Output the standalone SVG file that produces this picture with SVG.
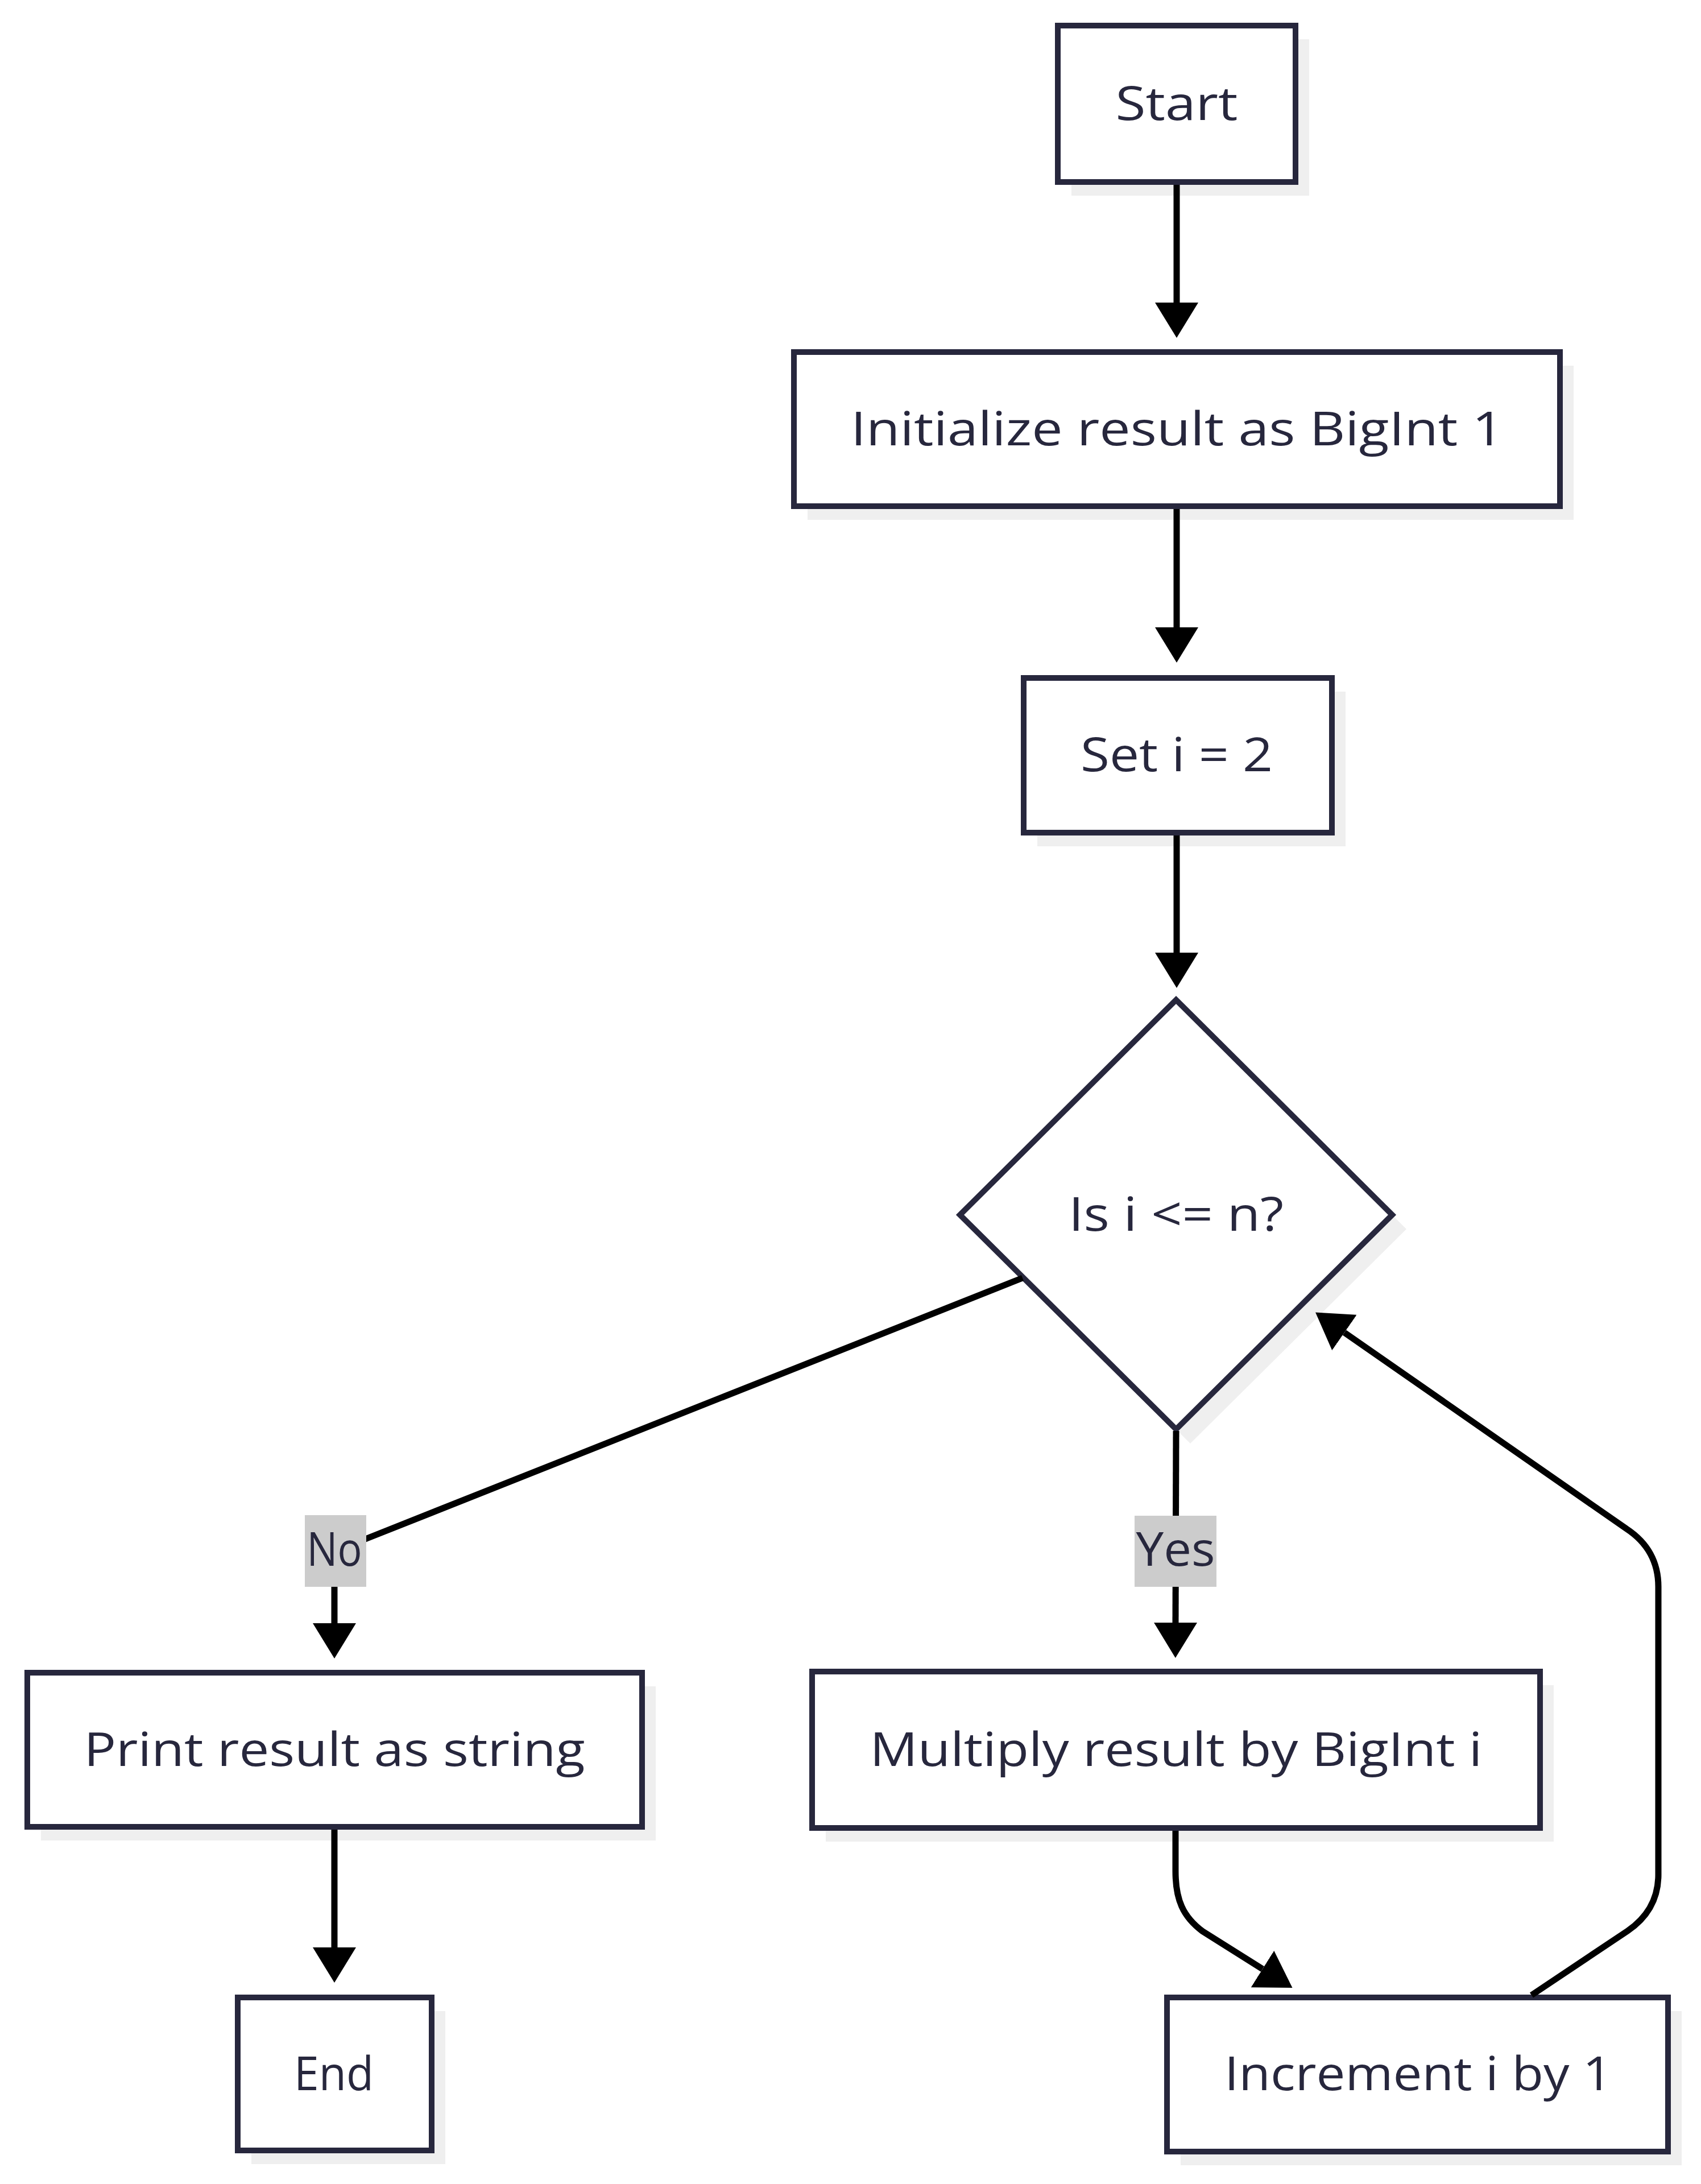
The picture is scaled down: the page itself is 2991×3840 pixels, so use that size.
<svg xmlns="http://www.w3.org/2000/svg" width="2991" height="3840" viewBox="0 0 2991 3840">
<style>
.bg{fill:#ffffff}
.shadow{fill:#efefef;stroke:none}
.box{fill:#ffffff;stroke:#27273d;stroke-width:10}
.lbl{font-family:"Open Sans","Liberation Sans",sans-serif;font-size:83px;fill:#27273d;text-anchor:middle}
.edge{fill:none;stroke:#000000;stroke-width:11;marker-end:url(#arrow)}
.elbg{fill:#cccccc}
</style>
<defs>
<marker id="arrow" markerUnits="userSpaceOnUse" markerWidth="62" markerHeight="76" refX="0" refY="38" orient="auto" viewBox="0 0 62 76">
<path d="M0,0 L62,38 L0,76 z" fill="#000000"/>
</marker>
</defs>
<rect class="bg" x="0" y="0" width="2991" height="3840"/>
<g id="start">
<rect class="shadow" x="1884" y="69" width="418" height="275"/>
<rect class="box" x="1860" y="45" width="418" height="275"/>
<text class="lbl" x="2069" y="211" textLength="215" lengthAdjust="spacingAndGlyphs">Start</text>
</g>
<g id="init">
<rect class="shadow" x="1420" y="643" width="1347" height="271"/>
<rect class="box" x="1396" y="619" width="1347" height="271"/>
<text class="lbl" x="2070" y="783" textLength="1148" lengthAdjust="spacingAndGlyphs">Initialize result as BigInt 1</text>
</g>
<g id="set-i">
<rect class="shadow" x="1824" y="1216" width="542" height="272"/>
<rect class="box" x="1800" y="1192" width="542" height="272"/>
<text class="lbl" x="2069" y="1356" textLength="338" lengthAdjust="spacingAndGlyphs">Set i = 2</text>
</g>
<g id="check">
<polygon class="shadow" points="2093,1783 2473,2161 2093,2538 1713,2161"/>
<polygon class="box" points="2068,1758 2448,2136 2068,2513 1688,2136"/>
<text class="lbl" x="2068" y="2164" textLength="378" lengthAdjust="spacingAndGlyphs">Is i &lt;= n?</text>
</g>
<g id="print">
<rect class="shadow" x="72" y="2965" width="1081" height="271"/>
<rect class="box" x="48" y="2941" width="1081" height="271"/>
<text class="lbl" x="588" y="3105" textLength="881" lengthAdjust="spacingAndGlyphs">Print result as string</text>
</g>
<g id="multiply">
<rect class="shadow" x="1452" y="2963" width="1280" height="275"/>
<rect class="box" x="1428" y="2939" width="1280" height="275"/>
<text class="lbl" x="2068" y="3105" textLength="1077" lengthAdjust="spacingAndGlyphs">Multiply result by BigInt i</text>
</g>
<g id="end">
<rect class="shadow" x="442" y="3536" width="341" height="269"/>
<rect class="box" x="418" y="3512" width="341" height="269"/>
<text class="lbl" x="587" y="3675" textLength="140" lengthAdjust="spacingAndGlyphs">End</text>
</g>
<g id="increment">
<rect class="shadow" x="2076" y="3536" width="881" height="271"/>
<rect class="box" x="2052" y="3512" width="881" height="271"/>
<text class="lbl" x="2494" y="3675" textLength="682" lengthAdjust="spacingAndGlyphs">Increment i by 1</text>
</g>
<g id="connectors">
<path class="edge" d="M2069,325 L2069,532"/>
<path class="edge" d="M2069,895 L2069,1103"/>
<path class="edge" d="M2069,1469 L2069,1675"/>
<path class="edge" d="M1798,2247 L645,2705 Q588,2728 588,2790 L588,2854"/>
<path class="edge" d="M2068,2516 L2067,2853"/>
<path class="edge" d="M588,3217 L588,3424"/>
<path class="edge" d="M2067,3219 L2067,3290 C2067,3340 2080,3370 2115,3396 L2220,3462"/>
<path class="edge" d="M2693,3508 L2862,3395 Q2916,3358 2916,3296 L2916,2790 Q2916,2725 2860,2688 L2364,2343"/>
</g>
<g id="edge-label-no">
<rect class="elbg" x="536" y="2664" width="108" height="126"/>
<text class="lbl" x="588" y="2753" textLength="97" lengthAdjust="spacingAndGlyphs">No</text>
</g>
<g id="edge-label-yes">
<rect class="elbg" x="1995" y="2665" width="144" height="125"/>
<text class="lbl" x="2067" y="2753" textLength="139" lengthAdjust="spacingAndGlyphs">Yes</text>
</g>
</svg>
